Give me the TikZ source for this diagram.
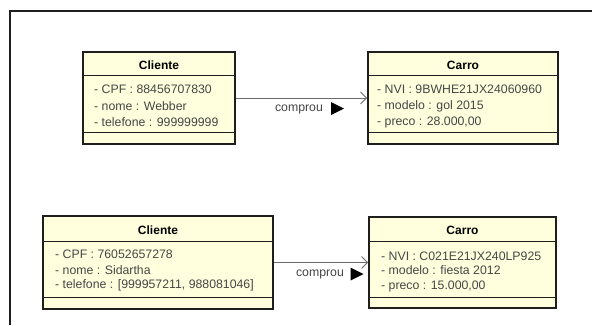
\documentclass[tikz,border=0pt]{standalone}
\usepackage{fontspec}
\setmainfont{Liberation Sans}
\usetikzlibrary{arrows.meta}
\definecolor{umlfill}{RGB}{255,255,222}
\definecolor{umltext}{RGB}{70,70,70}
\definecolor{umlline}{RGB}{30,30,30}
\tikzset{
  classbox/.style={draw=umlline,line width=1.8pt,fill=umlfill,inner sep=0pt},
  divider/.style={draw=umlline,line width=0.9pt},
  title/.style={font=\bfseries\fontsize{12}{14}\selectfont,text=black,inner sep=0pt},
  attr/.style={font=\fontsize{12.3}{14}\selectfont,text=umltext,anchor=west,inner sep=0pt},
  assoc/.style={draw=umltext!80,line width=0.8pt,-{Straight Barb[length=6pt,width=12pt,line width=0.8pt]}},
  lbl/.style={font=\fontsize{12.3}{14}\selectfont,text=umltext,inner sep=0pt},
  dirtri/.style={fill=black}
}
\begin{document}
\begin{tikzpicture}[x=1pt,y=-1pt]
\useasboundingbox (0,0) rectangle (592,325);
\fill[white] (0,0) rectangle (592,325);
% frame
\draw[line width=1.2pt,umlline] (10,325) -- (10,11) -- (592,11);

% ---- top Cliente
\node[classbox,minimum width=152pt,minimum height=92pt] (cli1) at (159,98) {};
\draw[divider] (83,75) -- (235,75);
\draw[divider] (83,132) -- (235,132);
\node[title] (cli1t) at (159,65) {Cliente};
\node[attr] (cli1a) at (94,89) {- CPF : 88456707830};
\node[attr] (cli1b) at (94,106) {- nome : Webber};
\node[attr] (cli1c) at (94,122) {- telefone : 999999999};

% ---- top Carro
\node[classbox,minimum width=190pt,minimum height=92pt] (car1) at (463,98) {};
\draw[divider] (368,75) -- (558,75);
\draw[divider] (368,132) -- (558,132);
\node[title] (car1t) at (463,65) {Carro};
\node[attr] (car1a) at (377,89) {- NVI : 9BWHE21JX24060960};
\node[attr] (car1b) at (377,106) {- modelo : gol 2015};
\node[attr] (car1c) at (377,122) {- preco : 28.000,00};

\draw[assoc] (cli1.east) -- (car1.west);
\node[lbl] (l1) at (299,109) {comprou};
\coordinate (t1) at (337.5,108.5);
\fill[dirtri] (t1) ++(-6.5,-6.5) -- ++(13,6.5) -- ++(-13,6.5) -- cycle;

% ---- bottom Cliente
\node[classbox,minimum width=230pt,minimum height=93pt] (cli2) at (158,262.5) {};
\draw[divider] (43,241) -- (273,241);
\draw[divider] (43,297) -- (273,297);
\node[title] (cli2t) at (158,230) {Cliente};
\node[attr] (cli2a) at (55,254) {- CPF : 76052657278};
\node[attr] (cli2b) at (55,270) {- nome : Sidartha};
\node[attr] (cli2c) at (55,285) {- telefone : [999957211, 988081046]};

% ---- bottom Carro
\node[classbox,minimum width=187pt,minimum height=91pt] (car2) at (462.5,262.5) {};
\draw[divider] (369,241) -- (556,241);
\draw[divider] (369,297) -- (556,297);
\node[title] (car2t) at (462.5,230) {Carro};
\node[attr] (car2a) at (381,256) {- NVI : C021E21JX240LP925};
\node[attr] (car2b) at (381,270) {- modelo : fiesta 2012};
\node[attr] (car2c) at (381,286) {- preco : 15.000,00};

\draw[assoc] (cli2.east) -- (car2.west);
\node[lbl] (l2) at (320,274) {comprou};
\coordinate (t2) at (357,274);
\fill[dirtri] (t2) ++(-6.5,-6.5) -- ++(13,6.5) -- ++(-13,6.5) -- cycle;
\end{tikzpicture}
\end{document}
